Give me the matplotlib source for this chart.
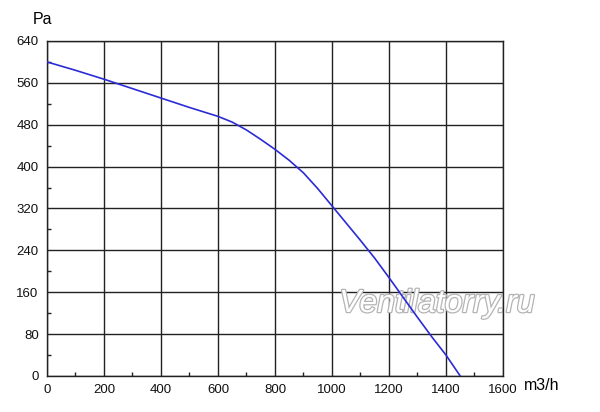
import numpy as np
import matplotlib
matplotlib.use("Agg")
import matplotlib.pyplot as plt
import matplotlib.patheffects as pe
from matplotlib.ticker import MultipleLocator

plt.rcParams['font.family'] = ['Liberation Sans', 'DejaVu Sans']

# fan curve
flow = [0, 100, 200, 300, 400, 500, 600, 650, 700, 750, 800, 850, 900, 950,
        1000, 1050, 1100, 1150, 1200, 1250, 1300, 1350, 1400, 1450]
pressure = [600, 584, 567, 549, 531, 513, 496, 485, 470, 452, 433, 412, 388, 358,
            325, 292, 259, 225, 188, 150, 112, 75, 40, 0]

x_ticks = list(range(0, 1601, 200))
y_ticks = list(range(0, 641, 80))

fig = plt.figure(figsize=(6, 4.12), dpi=100)
ax = fig.add_axes([0.0783, 0.0874, 0.76, 0.8131])

ax.plot(flow, pressure, color='#2b2bd6', lw=1.2, zorder=3)

ax.set_xlim(0, 1600)
ax.set_ylim(0, 640)
ax.set_xticks(x_ticks)
ax.set_yticks(y_ticks)
ax.xaxis.set_minor_locator(MultipleLocator(100))
ax.yaxis.set_minor_locator(MultipleLocator(40))
ax.grid(True, which='major', color='#222222', lw=1.0)
ax.tick_params(which='major', length=0, labelsize=9.5, pad=6, colors='#111111')
ax.tick_params(which='minor', direction='in', length=3, width=1, color='#222222')
for s in ax.spines.values():
    s.set_color('#222222')
    s.set_linewidth(1.0)

fig.text(33 / 600, 1 - 19 / 412, 'Pa', fontsize=11.5, ha='left', va='center')
fig.text(524 / 600, 1 - 386 / 412, 'm3/h', fontsize=11.5, ha='left', va='center')

# watermark, between grid and curve
ax.text(437 / 600, 1 - 304 / 412, 'Ventilatorry.ru', fontsize=23, style='italic',
        color='white', ha='center', va='center', zorder=2.5,
        transform=fig.transFigure, clip_on=False,
        path_effects=[pe.withStroke(linewidth=1.8, foreground='#b4b4b4')])

fig.savefig('out.png', dpi=100)
